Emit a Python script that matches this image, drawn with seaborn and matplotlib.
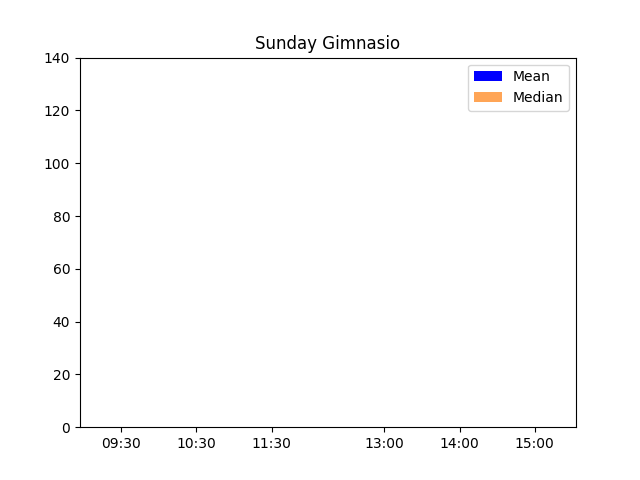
import matplotlib
matplotlib.use("Agg")
import matplotlib.pyplot as plt
import seaborn as sns
import pandas as pd
from matplotlib.patches import Patch

times = [9.5, 10.0, 10.5, 11.0, 11.5, 12.0, 12.5, 13.0, 13.5, 14.0, 14.5, 15.0]
mean_values = [0, 0, 0, 0, 0, 0, 0, 0, 0, 0, 0, 0]
median_values = [0, 0, 0, 0, 0, 0, 0, 0, 0, 0, 0, 0]
tick_pos = [9.5, 10.5, 11.5, 13.0, 14.0, 15.0]
tick_labels = ["09:30", "10:30", "11:30", "13:00", "14:00", "15:00"]

df = pd.DataFrame({"time": times, "Mean": mean_values, "Median": median_values})

fig, ax = plt.subplots(figsize=(6.4, 4.8), dpi=100)
mean_color = "blue"
median_color = "#ff7f0e"
sns.barplot(data=df, x="time", y="Mean", native_scale=True, width=1.0,
            color=mean_color, saturation=1, errorbar=None, ax=ax)
sns.barplot(data=df, x="time", y="Median", native_scale=True, width=1.0,
            color=median_color, saturation=1, alpha=0.7, errorbar=None, ax=ax)

ax.set_ylim(0, 140)
ax.set_xticks(tick_pos)
ax.set_xticklabels(tick_labels)
ax.set_xlabel("")
ax.set_ylabel("")
ax.set_title("Sunday Gimnasio")
handles = [Patch(facecolor=mean_color, label="Mean"),
           Patch(facecolor=median_color, alpha=0.7, label="Median")]
ax.legend(handles=handles, loc="upper right")
fig.savefig("out.png", dpi=100)
